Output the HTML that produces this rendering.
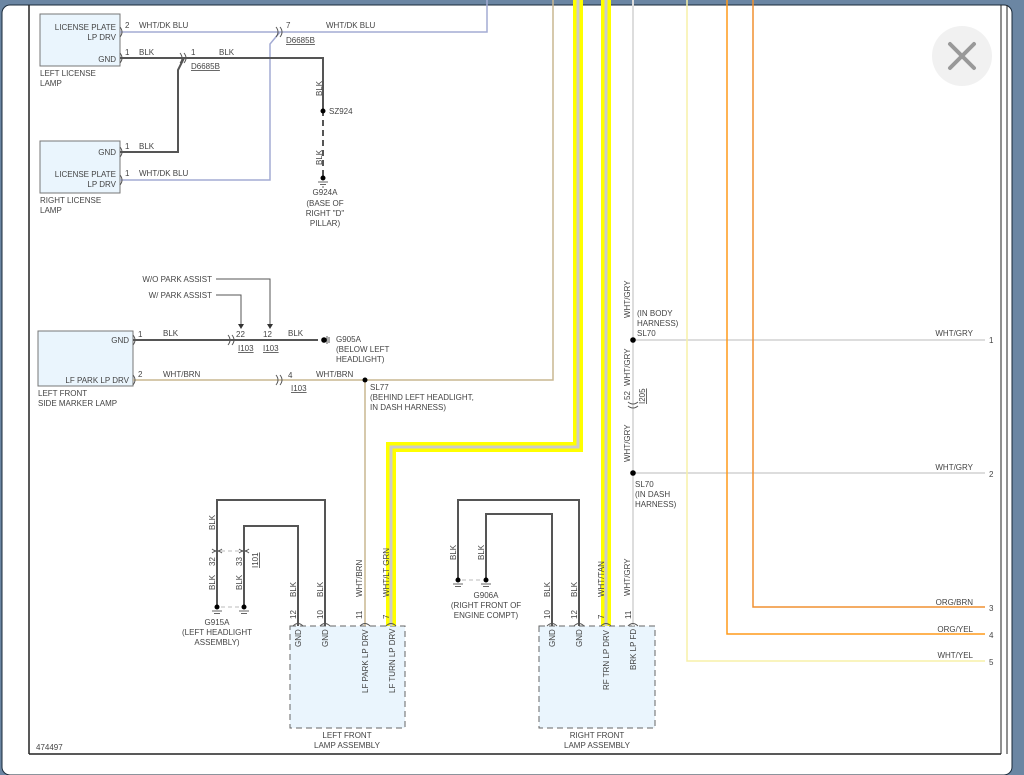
<!DOCTYPE html>
<html><head><meta charset="utf-8"><style>
html,body{margin:0;padding:0;width:1024px;height:775px;overflow:hidden;background:#6b86a3}
svg{display:block}
text{font-family:"Liberation Sans",sans-serif;font-size:8px;fill:#444}
</style></head><body>
<svg width="1024" height="775" viewBox="0 0 1024 775">
<rect x="0" y="0" width="1024" height="775" fill="#6b86a3"/>
<rect x="2" y="5" width="1010" height="770" rx="8" fill="#fff" stroke="#1a2a3a" stroke-width="1"/>
<line x1="29" y1="5" x2="29" y2="754" stroke="#222" stroke-width="1.5"/>
<line x1="29" y1="754" x2="1001" y2="754" stroke="#222" stroke-width="1.5"/>
<line x1="1001" y1="5" x2="1001" y2="754" stroke="#222" stroke-width="1"/>
<line x1="1007" y1="5" x2="1007" y2="754" stroke="#222" stroke-width="1"/>
<circle cx="962" cy="56" r="30" fill="#f1f1f1"/>
<path d="M950 44 L974 68 M974 44 L950 68" stroke="#999" stroke-width="4" stroke-linecap="round"/>
<text x="36" y="750" font-size="7.5">474497</text>

<!-- boxes -->
<g fill="#eaf5fd" stroke="#777" stroke-width="1">
<rect x="40" y="14" width="80" height="52"/>
<rect x="40" y="141" width="80" height="52"/>
<rect x="38" y="331" width="95" height="55"/>
</g>
<g fill="#eaf5fd" stroke="#666" stroke-width="1" stroke-dasharray="6,4">
<rect x="290" y="626" width="115" height="102"/>
<rect x="539" y="626" width="116" height="102"/>
</g>

<!-- license lamp wires -->
<path d="M120 32 H487 V0" fill="none" stroke="#a3abd3" stroke-width="1.5"/>
<path d="M120 180 H270 V44 L280 32" fill="none" stroke="#a3abd3" stroke-width="1.5"/>
<path d="M120 58 H323 V110" fill="none" stroke="#555" stroke-width="2"/>
<path d="M323 110 V178" fill="none" stroke="#555" stroke-width="2" stroke-dasharray="6,4"/>
<path d="M120 152 H178 V70 L184 58" fill="none" stroke="#555" stroke-width="2"/>
<circle cx="323" cy="111" r="2.5" fill="#000"/>
<circle cx="323" cy="178" r="2.5" fill="#000"/>
<path d="M318 182 H328 M320 184.5 H326 M322 187 H324" stroke="#333" stroke-width="0.8"/>

<!-- side marker wires -->
<path d="M133 340 H318" stroke="#555" stroke-width="2"/>
<path d="M133 380 H553 V0" fill="none" stroke="#c9b791" stroke-width="1.5"/>
<path d="M365 380 V626" stroke="#c9b791" stroke-width="1.5"/>
<circle cx="365" cy="380" r="2.5" fill="#000"/>
<circle cx="324" cy="340" r="2.8" fill="#000"/>
<path d="M327 336 V344 M329 337 V343" stroke="#333" stroke-width="0.8"/>
<path d="M216 279 H270 V326 M216 295 H241 V326" fill="none" stroke="#555" stroke-width="1"/>
<path d="M238 324 L241 329 L244 324Z M267 324 L270 329 L273 324Z" fill="#333"/>

<!-- yellow harness wires -->
<path d="M578 0 V447 H391 V626" fill="none" stroke="#ffff00" stroke-width="10"/>
<path d="M578 0 V447 H391 V626" fill="none" stroke="#ccc" stroke-width="3"/>
<path d="M606 0 V626" stroke="#ffff00" stroke-width="10"/>
<path d="M606 0 V626" stroke="#ccc" stroke-width="3"/>

<!-- right side wires -->
<path d="M633 0 V626" stroke="#ddd" stroke-width="2"/>
<path d="M633 340 H985 M633 473 H985" stroke="#ddd" stroke-width="2"/>
<circle cx="633" cy="340" r="2.8" fill="#000"/>
<circle cx="633" cy="473" r="2.8" fill="#000"/>
<path d="M687 0 V661 H985" fill="none" stroke="#f7f0a8" stroke-width="1.5"/>
<path d="M727 0 V634 H985" fill="none" stroke="#ff9a1a" stroke-width="1.5"/>
<path d="M753 0 V607 H985" fill="none" stroke="#f09030" stroke-width="1.5"/>

<!-- headlight grounds -->
<path d="M217 607 V500 H325 V626 M244 607 V526 H298 V626" fill="none" stroke="#555" stroke-width="2"/>
<path d="M221 551 H240 M221 607 H240" stroke="#bbb" stroke-dasharray="4,3"/>
<circle cx="217" cy="607" r="2.5" fill="#000"/><circle cx="244" cy="607" r="2.5" fill="#000"/>
<path d="M212 611 H222 M214 613.5 H220 M239 611 H249 M241 613.5 H247" stroke="#333" stroke-width="0.8"/>
<path d="M458 580 V500 H579 V626 M486 580 V514 H552 V626" fill="none" stroke="#555" stroke-width="2"/>
<path d="M462 580 H482" stroke="#bbb" stroke-dasharray="4,3"/>
<circle cx="458" cy="580" r="2.5" fill="#000"/><circle cx="486" cy="580" r="2.5" fill="#000"/>
<path d="M453 584 H463 M455 586.5 H461 M481 584 H491 M483 586.5 H489" stroke="#333" stroke-width="0.8"/>

<!-- connector marks -->
<g fill="none" stroke="#555" stroke-width="1">
<path d="M120 27 q4 5 0 10 M120 53 q4 5 0 10 M120 147 q4 5 0 10 M120 175 q4 5 0 10 M133 335 q4 5 0 10 M133 375 q4 5 0 10"/>
<path d="M276 27 q4 5 0 10 M280 27 q4 5 0 10 M180 53 q4 5 0 10 M184 53 q4 5 0 10"/>
<path d="M228 335 q4 5 0 10 M232 335 q4 5 0 10 M276 375 q4 5 0 10 M280 375 q4 5 0 10"/>
<path d="M628 402 q5 4 10 0 M628 406 q5 4 10 0"/>
<path d="M212 549 q5 4 10 0 M212 553 q5 -4 10 0 M239 549 q5 4 10 0 M239 553 q5 -4 10 0"/>
<path d="M293 626 q5 -5 10 0 M320 626 q5 -5 10 0 M360 626 q5 -5 10 0 M386 626 q5 -5 10 0 M547 626 q5 -5 10 0 M574 626 q5 -5 10 0 M601 626 q5 -5 10 0 M628 626 q5 -5 10 0"/>
</g>

<!-- labels -->
<g text-anchor="end">
<text x="116" y="30">LICENSE PLATE</text><text x="116" y="40">LP DRV</text><text x="116" y="62">GND</text>
<text x="116" y="155">GND</text><text x="116" y="177">LICENSE PLATE</text><text x="116" y="187">LP DRV</text>
<text x="129" y="343">GND</text><text x="129" y="383">LF PARK LP DRV</text>
<text x="212" y="282">W/O PARK ASSIST</text><text x="212" y="298">W/ PARK ASSIST</text>
<text x="973" y="336">WHT/GRY</text><text x="973" y="470">WHT/GRY</text>
<text x="973" y="605">ORG/BRN</text><text x="973" y="632">ORG/YEL</text><text x="973" y="658">WHT/YEL</text>
</g>
<text x="40" y="76">LEFT LICENSE</text><text x="40" y="86">LAMP</text>
<text x="40" y="203">RIGHT LICENSE</text><text x="40" y="213">LAMP</text>
<text x="38" y="396">LEFT FRONT</text><text x="38" y="406">SIDE MARKER LAMP</text>
<text x="125" y="28">2</text><text x="139" y="28">WHT/DK BLU</text>
<text x="286" y="28">7</text><text x="326" y="28">WHT/DK BLU</text>
<text x="286" y="43" text-decoration="underline">D6685B</text>
<text x="125" y="55">1</text><text x="139" y="55">BLK</text>
<text x="191" y="55">1</text><text x="219" y="55">BLK</text>
<text x="191" y="69" text-decoration="underline">D6685B</text>
<text x="125" y="149">1</text><text x="139" y="149">BLK</text>
<text x="125" y="176">1</text><text x="139" y="176">WHT/DK BLU</text>
<text x="329" y="114">SZ924</text>
<g text-anchor="middle"><text x="325" y="195">G924A</text><text x="325" y="206">(BASE OF</text><text x="325" y="216">RIGHT "D"</text><text x="325" y="226">PILLAR)</text>
<text x="217" y="625">G915A</text><text x="217" y="635">(LEFT HEADLIGHT</text><text x="217" y="645">ASSEMBLY)</text>
<text x="486" y="598">G906A</text><text x="486" y="608">(RIGHT FRONT OF</text><text x="486" y="618">ENGINE COMPT)</text>
<text x="347" y="738">LEFT FRONT</text><text x="347" y="748">LAMP ASSEMBLY</text>
<text x="597" y="738">RIGHT FRONT</text><text x="597" y="748">LAMP ASSEMBLY</text></g>
<text x="138" y="337">1</text><text x="163" y="336">BLK</text>
<text x="236" y="337">22</text><text x="263" y="337">12</text><text x="288" y="336">BLK</text>
<text x="238" y="351" text-decoration="underline">I103</text><text x="263" y="351" text-decoration="underline">I103</text>
<text x="336" y="342">G905A</text><text x="336" y="352">(BELOW LEFT</text><text x="336" y="362">HEADLIGHT)</text>
<text x="138" y="377">2</text><text x="163" y="377">WHT/BRN</text>
<text x="288" y="378">4</text><text x="316" y="377">WHT/BRN</text>
<text x="291" y="391" text-decoration="underline">I103</text>
<text x="370" y="390">SL77</text><text x="370" y="400">(BEHIND LEFT HEADLIGHT,</text><text x="370" y="410">IN DASH HARNESS)</text>
<text x="637" y="316">(IN BODY</text><text x="637" y="326">HARNESS)</text><text x="637" y="336">SL70</text>
<text x="635" y="487">SL70</text><text x="635" y="497">(IN DASH</text><text x="635" y="507">HARNESS)</text>
<text x="989" y="343">1</text><text x="989" y="477">2</text><text x="989" y="611">3</text><text x="989" y="638">4</text><text x="989" y="665">5</text>

<!-- rotated labels -->
<g>
<text transform="translate(322,96) rotate(-90)">BLK</text>
<text transform="translate(322,165) rotate(-90)">BLK</text>
<text transform="translate(630,318) rotate(-90)">WHT/GRY</text>
<text transform="translate(630,386) rotate(-90)">WHT/GRY</text>
<text transform="translate(630,400) rotate(-90)">52</text>
<text transform="translate(645,404) rotate(-90)" text-decoration="underline">I205</text>
<text transform="translate(630,462) rotate(-90)">WHT/GRY</text>
<text transform="translate(630,596) rotate(-90)">WHT/GRY</text>
<text transform="translate(215,530) rotate(-90)">BLK</text>
<text transform="translate(215,566) rotate(-90)">32</text>
<text transform="translate(242,566) rotate(-90)">33</text>
<text transform="translate(258,568) rotate(-90)" text-decoration="underline">I101</text>
<text transform="translate(215,590) rotate(-90)">BLK</text>
<text transform="translate(242,590) rotate(-90)">BLK</text>
<text transform="translate(296,597) rotate(-90)">BLK</text>
<text transform="translate(323,597) rotate(-90)">BLK</text>
<text transform="translate(362,597) rotate(-90)">WHT/BRN</text>
<text transform="translate(389,597) rotate(-90)">WHT/LT GRN</text>
<text transform="translate(456,560) rotate(-90)">BLK</text>
<text transform="translate(484,560) rotate(-90)">BLK</text>
<text transform="translate(550,597) rotate(-90)">BLK</text>
<text transform="translate(577,597) rotate(-90)">BLK</text>
<text transform="translate(604,597) rotate(-90)">WHT/TAN</text>
<text transform="translate(296,619) rotate(-90)">12</text><text transform="translate(323,619) rotate(-90)">10</text>
<text transform="translate(362,619) rotate(-90)">11</text><text transform="translate(389,619) rotate(-90)">7</text>
<text transform="translate(550,619) rotate(-90)">10</text><text transform="translate(577,619) rotate(-90)">12</text>
<text transform="translate(604,619) rotate(-90)">7</text><text transform="translate(631,619) rotate(-90)">11</text>
<text transform="translate(301,647) rotate(-90)">GND</text>
<text transform="translate(328,647) rotate(-90)">GND</text>
<text transform="translate(368,693) rotate(-90)">LF PARK LP DRV</text>
<text transform="translate(395,693) rotate(-90)">LF TURN LP DRV</text>
<text transform="translate(555,647) rotate(-90)">GND</text>
<text transform="translate(582,647) rotate(-90)">GND</text>
<text transform="translate(609,690) rotate(-90)">RF TRN LP DRV</text>
<text transform="translate(636,670) rotate(-90)">BRK LP FD</text>
</g>
</svg>
</body></html>
